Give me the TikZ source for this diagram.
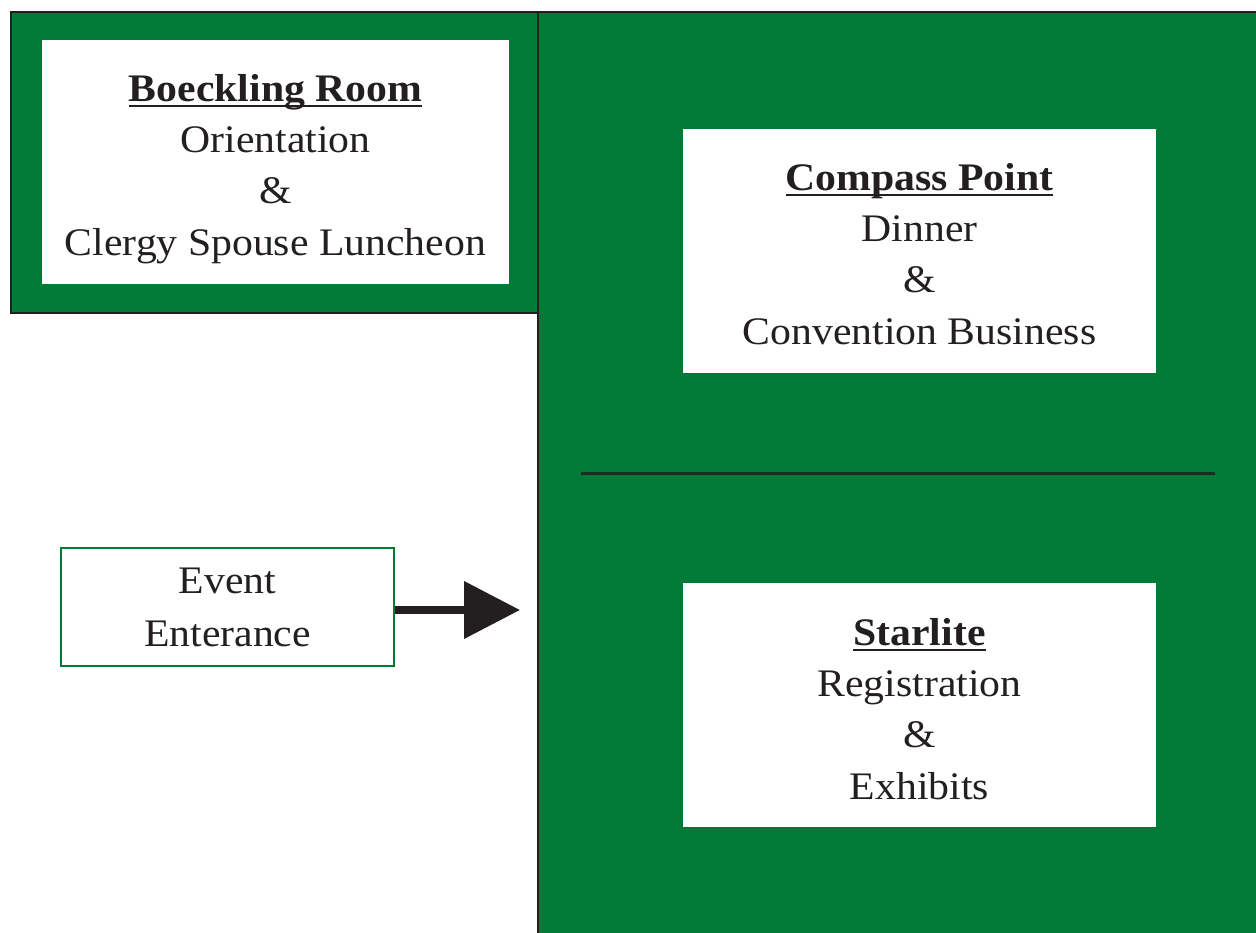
\documentclass[tikz,border=0pt]{standalone}
\usepackage{fontspec}
\setmainfont[FakeStretch=1.07]{Liberation Serif}
\usetikzlibrary{arrows.meta}
\definecolor{grn}{RGB}{0,122,55}
\definecolor{ink}{RGB}{35,31,32}
\newcommand\ttlu[1]{\textbf{\setbox0\hbox{#1}\rlap{\rule[-6pt]{\wd0}{2pt}}\box0}}
\newcommand\firstline{\rule{0pt}{40pt}}
\tikzset{
  room/.style={fill=grn, draw=ink, line width=2pt},
  whitebox/.style={fill=white, draw=none, minimum width=473pt, minimum height=244pt, inner sep=0pt},
  roomtext/.style={anchor=north, inner sep=0pt, align=center, text=ink, font=\fontsize{39}{51.3}\selectfont},
  entrybox/.style={fill=white, draw=grn, line width=2pt, minimum width=333pt, minimum height=118pt, inner sep=0pt, align=center, text=ink, font=\fontsize{39}{53}\selectfont},
  divider/.style={draw=ink!85!grn, line width=2.4pt},
  bigarrow/.style={draw=ink, fill=ink, line width=7.5pt, -{Triangle[length=56pt,width=56pt]}}
}
\begin{document}
\begin{tikzpicture}[x=1pt,y=-1pt]
\useasboundingbox (0,0) rectangle (1256,933);
% rooms
\fill[grn] (538,12) rectangle (1256,933);
\draw[ink, line width=2pt] (538,933) -- (538,12) -- (1256,12);
\draw[room] (11,12) rectangle (538,313);
% white boxes
\node[whitebox, minimum width=467pt] (boeckling) at (275.5,162) {};
\node[whitebox] (compass) at (919.5,251) {};
\node[whitebox] (starlite) at (919.5,705) {};
\node[roomtext] (boecklingtext) at (275.5,61) {\firstline\ttlu{Boeckling Room}\\Orientation\\\&\\Clergy Spouse Luncheon};
\node[roomtext] (compasstext) at (919.5,150) {\firstline\ttlu{Compass Point}\\Dinner\\\&\\Convention Business};
\node[roomtext] (starlitetext) at (919.5,605) {\firstline\ttlu{Starlite}\\Registration\\\&\\Exhibits};
% divider
\coordinate (divL) at (581,473.5);
\coordinate (divR) at (1215,473.5);
\draw[divider] (divL) -- (divR);
% entrance
\node[entrybox] (event) at (227.5,607) {Event\\Enterance};
\coordinate (tip) at (520,610);
\draw[bigarrow] (event.east |- tip) -- (tip);
\end{tikzpicture}
\end{document}
